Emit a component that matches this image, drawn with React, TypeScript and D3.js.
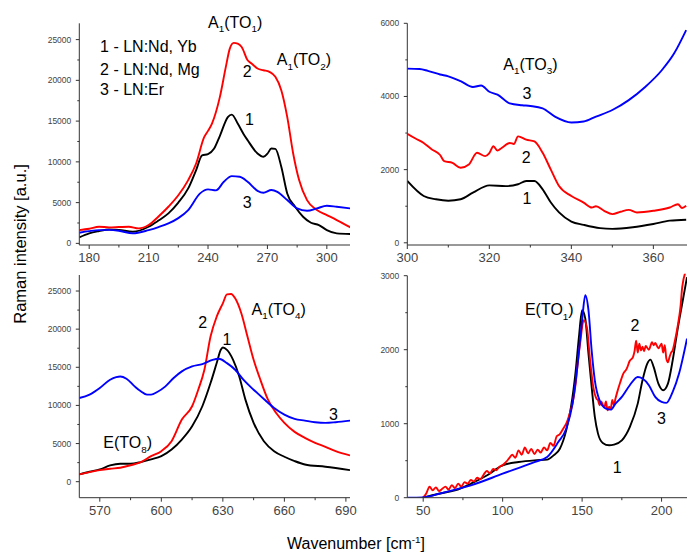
import React from "react";
import * as d3 from "d3";

type Pt = [number, number];

// ---- A1(TO1), A1(TO2) region ----
const lowBlack: Pt[] = [[175,735],[180,1225],[185,1500],[190,1700],[195,1650],[202,1430],[210,2040],[215,2800],[220,3680],[225,5000],[230,6740],[234,9000],[237,10800],[240,10950],[243,11600],[246,13200],[250,15500],[252,15800],[255,14700],[258,13400],[260,12660],[265,11030],[268,10620],[270,11000],[272,11640],[274,11600],[277,9400],[280,6130],[284,4490],[288,3270],[292,2530],[296,2250],[300,1630],[305,1225],[312,1145]];
const lowRed: Pt[] = [[175,1630],[180,1800],[185,2040],[190,1960],[195,2000],[200,2040],[205,1840],[210,2250],[215,3300],[220,4490],[225,5900],[230,7760],[234,9800],[238,13000],[240,13800],[242,14700],[246,17970],[249,21650],[251,23900],[253,24600],[255,24500],[257,24100],[260,22470],[262,22060],[265,21450],[268,21240],[271,21040],[274,20430],[277,18790],[280,15520],[283,11030],[286,7760],[290,5310],[295,4085],[300,3470],[305,2860],[312,1960]];
const lowBlue: Pt[] = [[175,1310],[180,1500],[185,1630],[190,1650],[195,1550],[202,1225],[210,1630],[215,2000],[220,2450],[225,3100],[230,4085],[236,6130],[240,6620],[244,6500],[248,7560],[252,8250],[256,8170],[260,7560],[265,6450],[268,6210],[272,6540],[275,6330],[280,5310],[285,4290],[290,4000],[295,4290],[300,4620],[305,4490],[312,4290]];

// ---- A1(TO3) region ----
const midBlack: Pt[] = [[300,1690],[304,1280],[307,1190],[310,1150],[313,1190],[316,1370],[320,1570],[324,1550],[327,1600],[329,1690],[331,1690],[333,1460],[335,1100],[337,830],[340,580],[343,490],[347,400],[350,380],[355,425],[360,515],[364,605],[368,630]];
const midRed: Pt[] = [[300,2980],[302,2850],[304,2730],[306,2550],[308,2400],[309,2230],[311,2185],[313,2050],[315,2140],[317,2460],[319,2370],[320,2450],[321,2640],[322,2520],[323,2590],[325,2730],[326,2700],[327,2910],[329,2820],[331,2770],[333,2460],[335,2000],[337,1550],[340,1280],[343,1100],[345,965],[346,1000],[348,875],[350,785],[352,850],[354,900],[356,830],[360,875],[364,965],[366,1055],[367,950],[368,1010]];
const midBlue: Pt[] = [[300,4760],[303,4750],[305,4700],[308,4600],[310,4550],[313,4420],[316,4260],[318,4300],[320,4130],[322,4050],[325,3810],[328,3760],[330,3740],[333,3675],[336,3450],[340,3290],[343,3315],[346,3450],[350,3630],[354,3900],[358,4260],[362,4710],[365,5165],[368,5815]];

// ---- A1(TO4), E(TO8) region ----
const highBlack: Pt[] = [[560,960],[565,1300],[570,1610],[575,2130],[580,2350],[585,2350],[590,2570],[595,2920],[600,3350],[605,4220],[610,5530],[615,7270],[620,9890],[624,12930],[627,15550],[629,17290],[630,17600],[632,17290],[635,15980],[638,13800],[641,10760],[645,7710],[650,5310],[655,4000],[660,3270],[665,2700],[670,2260],[680,1960],[692,1520]];
const highRed: Pt[] = [[560,960],[565,1250],[570,1520],[575,1700],[580,1830],[585,2150],[590,2570],[595,3350],[600,4000],[605,5310],[610,8140],[615,9890],[618,12060],[621,14680],[624,19030],[627,21640],[630,23390],[632,24560],[634,24600],[636,24040],[639,22080],[642,19030],[645,15980],[648,13590],[652,10760],[656,9010],[660,7710],[665,6530],[670,5750],[675,5100],[680,4570],[685,4000],[692,3440]];
const highBlue: Pt[] = [[560,10970],[565,11410],[570,12280],[575,13370],[578,13720],[580,13800],[583,13500],[587,12500],[590,11850],[593,11410],[595,11410],[598,11760],[602,12500],[606,13590],[610,14460],[615,15110],[620,15420],[625,15980],[628,16110],[632,15550],[636,14680],[640,13370],[645,12060],[650,10840],[655,9670],[660,8800],[665,8230],[670,8010],[675,7800],[680,7710],[685,7800],[692,8010]];

// ---- E(TO1) region ----
const farBlack: Pt[] = [[49.6,0],[60,54],[70,99],[80,189],[90,300],[100,437],[110,482],[120,505],[128,514],[132,572],[136,662],[140,910],[143,1226],[146,1722],[148,2173],[150,2534],[152,2420],[154,1947],[156,1497],[158,1091],[160,866],[163,740],[167,708],[170,717],[175,775],[180,955],[185,1271],[188,1587],[191,1812],[193,1866],[195,1767],[198,1542],[201,1452],[204,1542],[207,1857],[210,2263],[213,2624],[216,2980]];
const farRed: Pt[] = [[50,0],[52,60],[54,150],[56,100],[58,140],[60,90],[62,120],[64,150],[66,110],[68,170],[70,130],[72,190],[74,150],[76,210],[78,190],[80,240],[82,220],[84,270],[86,250],[88,310],[90,360],[92,330],[94,390],[96,370],[98,420],[100,440],[102,480],[104,530],[106,580],[108,540],[110,640],[112,580],[114,680],[116,600],[118,660],[120,590],[122,650],[124,610],[126,680],[128,640],[130,740],[132,700],[134,830],[136,860],[138,930],[140,1000],[142,1120],[144,1280],[146,1550],[147,1770],[149,2130],[151,2400],[153,2300],[155,1860],[157,1500],[159,1340],[160,1320],[161,1250],[162,1300],[164,1220],[165,1300],[166,1180],[167,1230],[168,1200],[169,1320],[170,1250],[171,1340],[172,1420],[174,1560],[176,1680],[178,1740],[180,1850],[182,1900],[183,1980],[184,2120],[185,1960],[186,2080],[187,1990],[188,2040],[189,1980],[190,2050],[192,2000],[194,2100],[195,2060],[196,2090],[198,2020],[200,2080],[201,1960],[202,2060],[203,1880],[204,1830],[205,1900],[206,1960],[207,1990],[208,2080],[210,2300],[212,2600],[213,2850],[216,3100]];
const farBlue: Pt[] = [[40,0],[50,5],[60,54],[80,166],[100,324],[120,482],[128,550],[135,752],[140,932],[144,1271],[147,1767],[150,2400],[152,2736],[154,2534],[156,1992],[158,1587],[161,1316],[165,1204],[168,1190],[171,1271],[175,1362],[180,1520],[185,1632],[188,1610],[192,1520],[196,1362],[200,1294],[203,1281],[207,1430],[211,1678],[216,2150]];

// ---- tick values ----
const lowXTicks = [180, 210, 240, 270, 300];
const lowYTicks = [0, 5000, 10000, 15000, 20000, 25000];
const midXTicks = [300, 320, 340, 360];
const midYTicks = [0, 2000, 4000, 6000];
const highXTicks = [570, 600, 630, 660, 690];
const highYTicks = [0, 5000, 10000, 15000, 20000, 25000];
const farXTicks = [50, 100, 150, 200];
const farYTicks = [0, 1000, 2000, 3000];

// ---- labels: [x, y, text] in data units; "_" marks a subscript ----
type Lbl = [number, number, string];
const lowLabels: Lbl[] = [[240.0, 26470, "A_1(TO_1)"], [274.7, 21850, "A_1(TO_2)"], [257.5, 20420, "2"], [258.7, 14500, "1"], [257.5, 4300, "3"], [185.5, 23480, "1 - LN:Nd, Yb"], [185.5, 20630, "2 - LN:Nd, Mg"], [185.5, 18180, "3 - LN:Er"]];
const midLabels: Lbl[] = [[323.4, 4725, "A_1(TO_3)"], [328.1, 3923, "3"], [327.9, 2190, "2"], [328.1, 1059, "1"]];
const highLabels: Lbl[] = [[644.0, 21870, "A_1(TO_4)"], [618.0, 20130, "2"], [629.8, 17940, "1"], [681.8, 8100, "3"], [571.7, 4380, "E(TO_8)"]];
const farLabels: Lbl[] = [[114.0, 2467, "E(TO_1)"], [180.5, 2254, "2"], [197.2, 1001, "3"], [169.2, 333, "1"]];

const COLORS = { s1: "#000000", s2: "#ff0000", s3: "#0000ff" };
const FONT = "'Liberation Sans', Arial, Helvetica, sans-serif";

interface PanelCfg {
  id: string;
  xDomain: [number, number];
  yDomain: [number, number];
  xRange: [number, number];
  yRange: [number, number];
  xTicks: number[];
  yTicks: number[];
  series: Pt[][];
  labels: Lbl[];
}

const panels: PanelCfg[] = [
  { id: "low", xDomain: [175, 311.7], yDomain: [-200, 27000], xRange: [79.3, 350], yRange: [245, 23.3], xTicks: lowXTicks, yTicks: lowYTicks, series: [lowBlack, lowRed, lowBlue], labels: lowLabels },
  { id: "mid", xDomain: [300, 368.2], yDomain: [-60, 6000], xRange: [407.3, 687], yRange: [245, 23.3], xTicks: midXTicks, yTicks: midYTicks, series: [midBlack, midRed, midBlue], labels: midLabels },
  { id: "high", xDomain: [560, 692], yDomain: [-2100, 27100], xRange: [79.3, 350], yRange: [497.7, 275], xTicks: highXTicks, yTicks: highYTicks, series: [highBlack, highRed, highBlue], labels: highLabels },
  { id: "far", xDomain: [40, 216], yDomain: [0, 3000], xRange: [407.3, 687], yRange: [497.7, 275.7], xTicks: farXTicks, yTicks: farYTicks, series: [farBlack, farRed, farBlue], labels: farLabels },
];

const seriesColors = [COLORS.s1, COLORS.s2, COLORS.s3];

function RichText({ x, y, text, size, anchor = "start", fill = "#000", transform }: { x: number; y: number; text: string; size: number; anchor?: string; fill?: string; transform?: string }) {
  // "_x" -> subscript x, "^{...}" -> superscript
  const tokens = text.split(/(_\{[^}]*\}|_.|\^\{[^}]*\}|\^.)/).filter((t) => t.length > 0);
  let shift = 0;
  const subShift = size * 0.28;
  const supShift = -size * 0.38;
  return (
    <text x={x} y={y} fontSize={size} fontFamily={FONT} fill={fill} textAnchor={anchor} transform={transform}>
      {tokens.map((t, i) => {
        let target = 0;
        let content = t;
        let fs = size;
        if (t.startsWith("_")) {
          target = subShift;
          content = t.startsWith("_{") ? t.slice(2, -1) : t.slice(1);
          fs = size * 0.62;
        } else if (t.startsWith("^")) {
          target = supShift;
          content = t.startsWith("^{") ? t.slice(2, -1) : t.slice(1);
          fs = size * 0.62;
        }
        const dy = target - shift;
        shift = target;
        return (
          <tspan key={i} dy={dy} fontSize={fs}>
            {content}
          </tspan>
        );
      })}
    </text>
  );
}

function Panel({ cfg }: { cfg: PanelCfg }) {
  const x = d3.scaleLinear().domain(cfg.xDomain).range(cfg.xRange);
  const y = d3.scaleLinear().domain(cfg.yDomain).range(cfg.yRange);
  const line = d3
    .line<Pt>()
    .x((d) => x(d[0]))
    .y((d) => y(d[1]))
    .curve(d3.curveMonotoneX);

  const xStep = cfg.xTicks[1] - cfg.xTicks[0];
  const yStep = cfg.yTicks[1] - cfg.yTicks[0];
  const xMinor: number[] = [];
  for (let v = cfg.xTicks[0] - xStep * 2; v <= cfg.xDomain[1]; v += xStep / 2) {
    if (v >= cfg.xDomain[0] && v <= cfg.xDomain[1] && !cfg.xTicks.includes(v)) xMinor.push(v);
  }
  const yMinor: number[] = [];
  for (let v = cfg.yTicks[0] - yStep; v <= cfg.yDomain[1]; v += yStep / 2) {
    if (v >= cfg.yDomain[0] && v <= cfg.yDomain[1] && !cfg.yTicks.includes(v)) yMinor.push(v);
  }

  const [x0, x1] = cfg.xRange;
  const [yb, yt] = cfg.yRange;
  const axisColor = "#333";
  const clipId = `clip-${cfg.id}`;

  return (
    <g>
      <defs>
        <clipPath id={clipId}>
          <rect x={x0} y={yt - 2} width={x1 - x0} height={yb - yt + 2} />
        </clipPath>
      </defs>
      <g clipPath={`url(#${clipId})`}>
        {cfg.series.map((s, i) => (
          <path key={i} d={line(s) || ""} fill="none" stroke={seriesColors[i]} strokeWidth={1.9} strokeLinejoin="round" />
        ))}
      </g>
      {/* axes */}
      <line x1={x0} x2={x1} y1={yb} y2={yb} stroke={axisColor} strokeWidth={1} />
      <line x1={x0} x2={x0} y1={yt} y2={yb} stroke={axisColor} strokeWidth={1} />
      {cfg.xTicks.map((v) => (
        <g key={`xt${v}`}>
          <line x1={x(v)} x2={x(v)} y1={yb} y2={yb + 4} stroke={axisColor} />
          <text x={x(v)} y={yb + 17} fontSize={13} fontFamily={FONT} fill="#444" textAnchor="middle">
            {v}
          </text>
        </g>
      ))}
      {xMinor.map((v) => (
        <line key={`xm${v}`} x1={x(v)} x2={x(v)} y1={yb} y2={yb + 2.5} stroke={axisColor} />
      ))}
      {cfg.yTicks.map((v) => (
        <g key={`yt${v}`}>
          <line x1={x0 - 3.5} x2={x0} y1={y(v)} y2={y(v)} stroke={axisColor} />
          <text x={x0 - 8} y={y(v) + 3} fontSize={8.5} fontFamily={FONT} fill="#444" textAnchor="end">
            {v}
          </text>
        </g>
      ))}
      {yMinor.map((v) => (
        <line key={`ym${v}`} x1={x0 - 2} x2={x0} y1={y(v)} y2={y(v)} stroke={axisColor} />
      ))}
      {cfg.labels.map(([lx, ly, t], i) => (
        <RichText key={i} x={x(lx)} y={y(ly)} text={t} size={16} />
      ))}
    </g>
  );
}

export default function App() {
  const W = 687;
  const H = 553;
  return (
    <div style={{ position: "fixed", left: 0, top: 0 }}>
      <svg width={W} height={H} viewBox={`0 0 ${W} ${H}`} style={{ display: "block", background: "#fff" }}>
        <rect width={W} height={H} fill="#fff" />
        {panels.map((p) => (
          <Panel key={p.id} cfg={p} />
        ))}
        <RichText x={0} y={0} text="Raman intensity [a.u.]" size={16.5} anchor="middle" transform="translate(26,244) rotate(-90)" />
        <RichText x={356} y={549} text="Wavenumber [cm^{-1}]" size={16} anchor="middle" />
      </svg>
    </div>
  );
}
